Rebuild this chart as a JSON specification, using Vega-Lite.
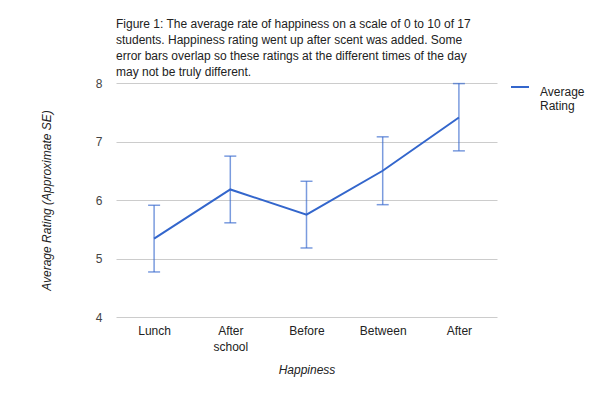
{
  "$schema": "https://vega.github.io/schema/vega-lite/v6.json",
  "width": 381,
  "height": 234,
  "padding": {"left": 40, "top": 18, "right": 5, "bottom": 5},
  "background": "white",
  "config": {
    "font": "Liberation Sans",
    "view": {"stroke": null}
  },
  "title": {
    "text": [
      "Figure 1: The average rate of happiness on a scale of 0 to 10 of 17",
      "students. Happiness rating went up after scent was added. Some",
      "error bars overlap so these ratings at the different times of the day",
      "may not be truly different."
    ],
    "anchor": "start",
    "frame": "group",
    "fontSize": 12,
    "fontWeight": "normal",
    "color": "#222222",
    "lineHeight": 16,
    "offset": -2
  },
  "data": {
    "values": [
      {"time": "Lunch", "order": 1, "rating": 5.34, "low": 4.77, "high": 5.91, "series": "Average Rating"},
      {"time": "After school", "order": 2, "rating": 6.18, "low": 5.61, "high": 6.75, "series": "Average Rating"},
      {"time": "Before", "order": 3, "rating": 5.75, "low": 5.18, "high": 6.32, "series": "Average Rating"},
      {"time": "Between", "order": 4, "rating": 6.5, "low": 5.92, "high": 7.08, "series": "Average Rating"},
      {"time": "After", "order": 5, "rating": 7.41, "low": 6.84, "high": 7.99, "series": "Average Rating"}
    ]
  },
  "encoding": {
    "x": {
      "field": "time",
      "type": "nominal",
      "sort": ["Lunch", "After school", "Before", "Between", "After"],
      "scale": {"type": "point", "padding": 0.5},
      "axis": {
        "title": "Happiness",
        "titleFontStyle": "italic",
        "titleFontWeight": "normal",
        "titleFontSize": 12,
        "titleColor": "#222222",
        "titlePadding": 12,
        "labelAngle": 0,
        "labelFontSize": 12,
        "labelColor": "#222222",
        "labelPadding": 8,
        "labelLineHeight": 16,
        "labelExpr": "split(datum.label, ' ')",
        "ticks": false,
        "domain": false,
        "grid": false
      }
    }
  },
  "layer": [
    {
      "mark": {"type": "rule", "color": "#3366cc", "opacity": 0.65, "strokeWidth": 1.5},
      "encoding": {
        "y": {"field": "low", "type": "quantitative"},
        "y2": {"field": "high"}
      }
    },
    {
      "mark": {"type": "tick", "color": "#3366cc", "opacity": 0.65, "thickness": 1.5, "size": 12, "orient": "horizontal"},
      "encoding": {"y": {"field": "low", "type": "quantitative"}}
    },
    {
      "mark": {"type": "tick", "color": "#3366cc", "opacity": 0.65, "thickness": 1.5, "size": 12, "orient": "horizontal"},
      "encoding": {"y": {"field": "high", "type": "quantitative"}}
    },
    {
      "mark": {"type": "line", "strokeWidth": 2},
      "encoding": {
        "order": {"field": "order", "type": "quantitative"},
        "y": {
          "field": "rating",
          "type": "quantitative",
          "scale": {"domain": [4, 8], "zero": false, "nice": false},
          "axis": {
            "title": "Average Rating (Approximate SE)",
            "titleFontStyle": "italic",
            "titleFontWeight": "normal",
            "titleFontSize": 12,
            "titleColor": "#222222",
            "titlePadding": 42,
            "values": [4, 5, 6, 7, 8],
            "format": "d",
            "labelFontSize": 12,
            "labelColor": "#444444",
            "labelPadding": 14,
            "ticks": false,
            "domain": false,
            "gridColor": "#cccccc"
          }
        },
        "color": {
          "field": "series",
          "type": "nominal",
          "scale": {"range": ["#3366cc"]},
          "legend": {
            "title": null,
            "orient": "none",
            "legendX": 394,
            "legendY": -6,
            "padding": 0,
            "symbolType": "stroke",
            "symbolSize": 324,
            "symbolStrokeWidth": 2,
            "labelFontSize": 12,
            "labelColor": "#222222",
            "labelLineHeight": 13,
            "labelExpr": "split(datum.label, ' ')",
            "labelBaseline": "top",
            "labelOffset": 10
          }
        }
      }
    }
  ]
}
